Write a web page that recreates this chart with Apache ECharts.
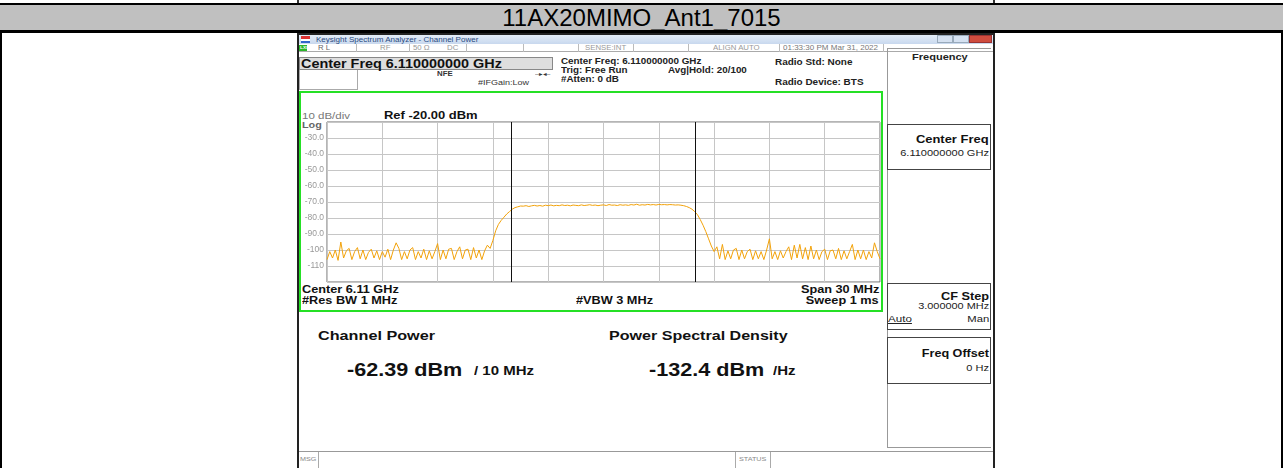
<!DOCTYPE html>
<html>
<head>
<meta charset="utf-8">
<script src="https://cdn.jsdelivr.net/npm/echarts@6/dist/echarts.min.js"></script>
<style>
  body { margin: 0; width: 1283px; height: 468px; overflow: hidden; background: #fff; position: relative;
         font-family: "Liberation Sans", Arial, sans-serif; }
  .box { position: absolute; box-sizing: border-box; }
  .t { position: absolute; white-space: nowrap; }
  #plot { position: absolute; left: 297px; top: 100px; width: 590px; height: 200px; }
</style>
</head>
<body>
<!-- table frame -->
<div class="box" style="left:297px;top:0;width:698px;height:4px;border-left:2px solid #333;border-right:2px solid #333;background:#f4f4f4"></div>
<div class="box" style="left:0;top:3px;width:1283px;height:2px;background:#000"></div>
<div class="box" style="left:0;top:5px;width:1283px;height:25px;background:#c0c0c0"></div>
<div class="t" style="left:0;top:4px;width:1283px;text-align:center;font-family:'Liberation Sans Narrow','Arial Narrow',sans-serif;font-size:24px;line-height:27px;color:#000">11AX20MIMO_Ant1_7015</div>
<div class="box" style="left:0;top:30px;width:1283px;height:3px;background:#000"></div>
<div class="box" style="left:0;top:33px;width:2px;height:435px;background:#000"></div>
<div class="box" style="left:1281px;top:33px;width:2px;height:435px;background:#000"></div>

<!-- analyzer window -->
<div class="box" style="left:297px;top:33px;width:698px;height:435px;border:2px solid #222;border-bottom:none;background:#fff"></div>
<div class="box" style="left:299px;top:35px;width:694px;height:9px;background:linear-gradient(#e4edf8,#c8d8ee)"></div>
<div class="box" style="left:301px;top:36px;width:9px;height:7px;background:linear-gradient(#d33 0,#d33 40%,#fff 40%,#fff 70%,#36c 70%)"></div>
<div class="box" style="left:937px;top:35px;width:16px;height:8px;background:#d5e1f1;border:1px solid #9ab"></div>
<div class="box" style="left:953px;top:35px;width:16px;height:8px;background:#d5e1f1;border:1px solid #9ab"></div>
<div class="box" style="left:969px;top:35px;width:23px;height:8px;background:#cf4c3e;border:1px solid #933"></div>
<div class="box" style="left:299px;top:44px;width:694px;height:8px;border-bottom:1px solid #aaa;background:#fff"></div>
<div class="box" style="left:299px;top:45px;width:8px;height:6px;background:#2bb52b"></div>
<div class="box" style="left:299px;top:57px;width:254px;height:13px;background:#dedede;border:1px solid #888"></div>
<div class="box" style="left:299px;top:70px;width:59px;height:20px;border:1px solid #aaa;border-top:none"></div>
<div class="box" style="left:299px;top:91px;width:584px;height:221px;border:2px solid #25e025"></div>
<div class="box" style="left:887px;top:48px;width:104px;height:400px;border:1px solid #999;border-right:none"></div>
<div class="box" style="left:887px;top:124px;width:104px;height:46px;border:1px solid #444"></div>
<div class="box" style="left:887px;top:283px;width:104px;height:47px;border:1px solid #444"></div>
<div class="box" style="left:887px;top:337px;width:104px;height:47px;border:1px solid #444"></div>
<div class="box" style="left:299px;top:451px;width:694px;height:17px;border-top:1px solid #999"></div>
<div id="seps"></div>
<div id="labels"></div>
<div id="plot"></div>

<script>
// trace: levels in dBm, one point every freqStepMhz from freqStartMhz
const freqStartMhz = -15;
const freqStepMhz = 0.15;
const noiseLeft = [
  -106, -101, -105, -100, -106.5, -95, -105, -100.5, -99, -106,
  -101, -98.5, -105.5, -100, -106, -101.5, -99.5, -105, -100.5, -106,
  -101, -104.5, -99.5, -106, -100, -95.5, -99, -106, -101, -105.5,
  -100, -98.5, -106, -101, -105, -99.5, -106, -100.5, -105.5, -101,
  -96, -106, -100, -105.5, -99.5, -99, -106, -101, -98, -105.5,
  -100, -99.5, -106, -98.5, -105, -100, -106, -100.5, -97
];
const riseEdge = [-99, -94, -88, -84, -81.5, -79.5, -77.5, -76, -74.5, -73.5, -73, -72.5];
const flatTop = [
  -72.6, -72.3, -72.8, -72.4, -72.1, -72.5, -72.2, -72.6, -72.0, -72.3,
  -71.9, -72.4, -72.1, -72.3, -71.8, -72.2, -72.0, -72.4, -71.9, -72.1,
  -72.3, -71.8, -72.2, -72.0, -71.7, -72.1, -71.9, -72.3, -72.0, -71.8,
  -72.2, -71.6, -72.0, -71.9, -72.2, -71.7, -72.0, -71.8, -72.1, -71.6,
  -71.9, -71.4, -72.0, -71.7, -71.9, -71.5, -71.8, -71.6, -71.9, -71.5,
  -71.7, -71.6, -71.8, -71.6, -71.7, -71.9, -71.8, -72.0
];
const fallEdge = [-72.3, -72.8, -73.5, -74.5, -76, -78, -81, -84.5, -88.5, -93, -97.5, -101];
const noiseRight = [
  -98, -105.5, -96.5, -106, -100.5, -105.5, -100, -99, -106, -100,
  -105.5, -101, -99.5, -106, -100.5, -105.5, -101, -106, -100, -93,
  -105.5, -101, -106, -100.5, -105, -101, -98, -106, -97, -105,
  -96.5, -105.5, -98.5, -106, -97.5, -105.5, -100, -106, -101, -99.5,
  -106, -100.5, -100, -105.5, -99, -106, -100.5, -105.5, -101, -96.5,
  -106, -100, -105.5, -100, -106, -101, -105, -95.5, -101, -105.5
];
const channelEdgesMhz = [-5, 5];
const levelTicks = [-30, -40, -50, -60, -70, -80, -90, -100, -110];
const levelLabels = ['-30.0', '-40.0', '-50.0', '-60.0', '-70.0', '-80.0', '-90.0', '-100', '-110'];

const traceDbm = noiseLeft.concat(riseEdge, flatTop, fallEdge, noiseRight);
const tracePoints = traceDbm.map((v, i) => [freqStartMhz + i * freqStepMhz, v]);

// screen texts: [text, x, centerY, size, bold, color, right-aligned]
const screenTexts = [
  ['Keysight Spectrum Analyzer - Channel Power', 316, 40, 6.7, false, '#2a4a80'],
  ['LXI', 300, 48, 4, true, '#fff'],
  ['R L', 318, 48, 6.5, false, '#666'],
  ['RF', 380, 48, 6.5, false, '#999'],
  ['50 Ω', 413, 48, 6.5, false, '#999'],
  ['DC', 447, 48, 6.5, false, '#999'],
  ['SENSE:INT', 585, 48, 6.5, false, '#999'],
  ['ALIGN AUTO', 713, 48, 6.5, false, '#999'],
  ['01:33:30 PM Mar 31, 2022', 783, 48, 6.7, false, '#777'],
  ['Center Freq 6.110000000 GHz', 301, 63.5, 12, true, '#111'],
  ['NFE', 437, 74, 6.5, true, '#333'],
  ['#IFGain:Low', 478, 83, 7.5, false, '#333'],
  ['–▸◂–', 535, 74, 6, false, '#333'],
  ['Center Freq: 6.110000000 GHz', 561, 62, 8.2, true, '#222'],
  ['Trig: Free Run', 561, 71, 8.2, true, '#222'],
  ['Avg|Hold: 20/100', 668, 71, 8.2, true, '#222'],
  ['#Atten: 0 dB', 561, 80, 8.2, true, '#222'],
  ['Radio Std: None', 775, 62, 8.3, true, '#222'],
  ['Radio Device: BTS', 775, 82, 8.3, true, '#222'],
  ['10 dB/div', 302, 116, 9.6, false, '#777'],
  ['Ref -20.00 dBm', 384, 115, 10.8, true, '#111'],
  ['Log', 302, 125, 9, true, '#666'],
  ['Center  6.11 GHz', 302, 289.5, 10.6, true, '#111'],
  ['#Res BW  1 MHz', 302, 300.5, 10.6, true, '#111'],
  ['#VBW  3 MHz', 576, 300.5, 10.6, true, '#111'],
  ['Span 30 MHz', 879, 289.5, 10.6, true, '#111', true],
  ['Sweep   1 ms', 879, 300.5, 10.6, true, '#111', true],
  ['Channel Power', 318, 336, 13.5, true, '#111'],
  ['-62.39 dBm', 347, 370, 18, true, '#111'],
  ['/ 10 MHz', 474, 371, 12.5, true, '#111'],
  ['Power Spectral Density', 609, 336, 13.4, true, '#111'],
  ['-132.4 dBm', 649, 370, 18, true, '#111'],
  ['/Hz', 773, 371, 12.5, true, '#111'],
  ['Frequency', 912, 58, 9.2, true, '#222'],
  ['Center Freq', 989, 139, 10.8, true, '#111', true],
  ['6.110000000 GHz', 989, 154, 9.2, false, '#222', true],
  ['CF Step', 989, 296, 10.6, true, '#111', true],
  ['3.000000 MHz', 989, 306.5, 9.1, false, '#222', true],
  ['Auto', 888, 319, 9.7, false, '#222'],
  ['Man', 989, 319, 9.4, false, '#222', true],
  ['Freq Offset', 989, 353, 10.5, true, '#111', true],
  ['0 Hz', 989, 369, 9.2, false, '#222', true],
  ['MSG', 300, 459, 6, false, '#888'],
  ['STATUS', 739, 459, 6, false, '#888']
];
const statusSeparators = [356, 409, 466, 523, 578, 633, 688, 779, 883];
const footerSeparators = [318, 735, 770];

const labelHost = document.getElementById('labels');
screenTexts.forEach(([text, x, y, size, bold, color, right]) => {
  const el = document.createElement('div');
  el.className = 't';
  el.textContent = text;
  el.style.fontSize = size + 'px';
  el.style.lineHeight = size + 'px';
  el.style.top = (y - size * 0.49) + 'px';
  el.style.fontWeight = bold ? 'bold' : 'normal';
  el.style.color = color;
  el.style.transform = 'scaleX(1.2)';
  if (right) {
    el.style.right = (1283 - x) + 'px';
    el.style.transformOrigin = '100% 50%';
  } else {
    el.style.left = x + 'px';
    el.style.transformOrigin = '0 50%';
  }
  if (text === 'Auto') el.style.textDecoration = 'underline';
  labelHost.appendChild(el);
});

const sepHost = document.getElementById('seps');
statusSeparators.forEach((x) => {
  const el = document.createElement('div');
  el.className = 'box';
  el.style.cssText = `left:${x}px;top:44px;width:1px;height:8px;background:#bbb`;
  sepHost.appendChild(el);
});
footerSeparators.forEach((x) => {
  const el = document.createElement('div');
  el.className = 'box';
  el.style.cssText = `left:${x}px;top:452px;width:1px;height:16px;background:#aaa`;
  sepHost.appendChild(el);
});

const chart = echarts.init(document.getElementById('plot'));
chart.setOption({
  animation: false,
  grid: {
    left: 30,
    top: 22,
    width: 553,
    height: 160,
    show: true,
    borderColor: '#6a6a6a',
    borderWidth: 1
  },
  xAxis: {
    type: 'value',
    min: -15,
    max: 15,
    interval: 3,
    axisLine: { show: false },
    axisTick: { show: false },
    axisLabel: { show: false },
    splitLine: { lineStyle: { color: '#c6c6c6', width: 1 } }
  },
  yAxis: {
    type: 'value',
    min: -120,
    max: -20,
    interval: 10,
    axisLine: { show: false },
    axisTick: { show: false },
    axisLabel: {
      color: '#999',
      fontSize: 8.5,
      margin: 3,
      fontFamily: 'Liberation Sans',
      formatter: (v) => {
        const k = levelTicks.indexOf(v);
        return k < 0 ? '' : levelLabels[k];
      }
    },
    splitLine: { lineStyle: { color: '#c6c6c6', width: 1 } }
  },
  series: [
    {
      type: 'line',
      data: tracePoints,
      symbol: 'none',
      lineStyle: { color: '#f2a20a', width: 1 },
      markLine: {
        silent: true,
        symbol: ['none', 'none'],
        label: { show: false },
        lineStyle: { color: '#111', type: 'solid', width: 1 },
        data: channelEdgesMhz.map((f) => ({ xAxis: f }))
      }
    }
  ]
});
</script>
</body>
</html>
